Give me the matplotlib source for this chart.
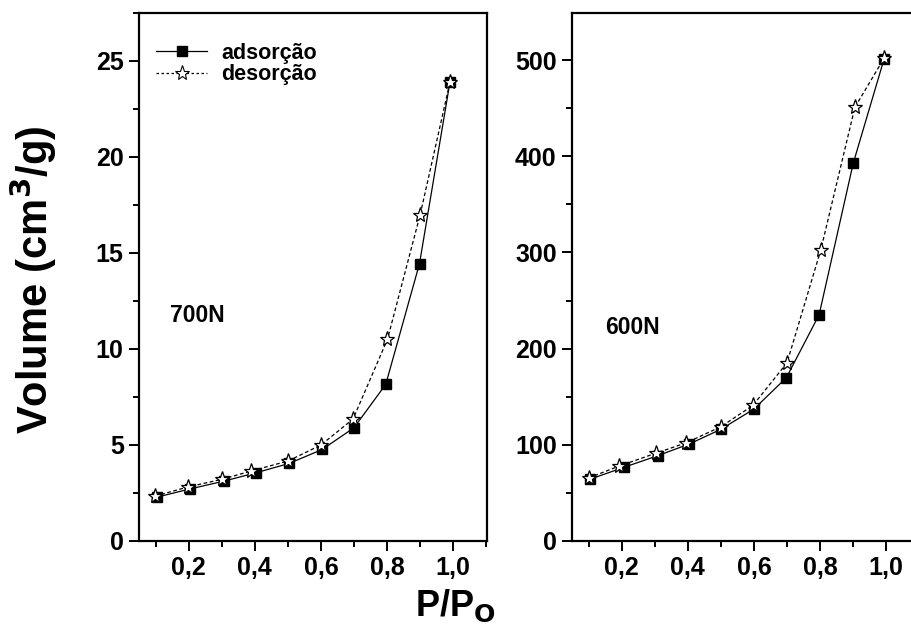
import matplotlib
matplotlib.use("Agg")
import matplotlib.pyplot as plt
from matplotlib.ticker import FuncFormatter, MultipleLocator
from matplotlib.lines import Line2D

plt.rcParams['font.family'] = ['Liberation Sans', 'DejaVu Sans']
plt.rcParams['font.weight'] = 'bold'

# 700N sample
x_ads_700 = [0.103, 0.204, 0.307, 0.405, 0.504, 0.604, 0.700, 0.796, 0.898, 0.99]
v_ads_700 = [2.28, 2.71, 3.12, 3.56, 4.04, 4.77, 5.90, 8.16, 14.45, 23.9]
x_des_700 = [0.099, 0.197, 0.300, 0.390, 0.501, 0.600, 0.697, 0.801, 0.900, 0.99]
v_des_700 = [2.34, 2.81, 3.21, 3.65, 4.17, 5.00, 6.35, 10.50, 17.0, 23.9]

# 600N sample
x_ads_600 = [0.103, 0.207, 0.309, 0.404, 0.500, 0.600, 0.698, 0.797, 0.900, 0.993]
v_ads_600 = [64.1, 76.6, 88.7, 100.8, 116.1, 137.2, 169.8, 235.2, 392.6, 500.7]
x_des_600 = [0.100, 0.193, 0.303, 0.396, 0.500, 0.597, 0.700, 0.802, 0.905, 0.993]
v_des_600 = [65.5, 78.0, 91.2, 102.2, 118.8, 141.0, 185.3, 302.5, 450.8, 501.8]

legend_labels = ['adsorção', 'desorção']
panel_labels = ['700N', '600N']

W, H = 912, 634
fig = plt.figure(figsize=(W / 100, H / 100), dpi=100)

ax_w = (487 - 139) / W
ax_h = (541 - 13) / H
ax1 = fig.add_axes([139 / W, (H - 541) / H, ax_w, ax_h])
ax2 = fig.add_axes([572 / W, (H - 541) / H, ax_w, ax_h])

comma_fmt = FuncFormatter(lambda v, p: f"{v:.1f}".replace('.', ','))


def style(ax, ymax, ymajor):
    ax.set_xlim(0.05, 1.102)
    ax.set_ylim(0, ymax)
    ax.xaxis.set_major_locator(MultipleLocator(0.2))
    ax.xaxis.set_minor_locator(MultipleLocator(0.1))
    ax.xaxis.set_major_formatter(comma_fmt)
    ax.yaxis.set_major_locator(MultipleLocator(ymajor))
    ax.yaxis.set_minor_locator(MultipleLocator(ymajor / 2))
    ax.set_xticks([0.2, 0.4, 0.6, 0.8, 1.0])
    for s in ax.spines.values():
        s.set_linewidth(1.6)
    ax.tick_params(which='major', direction='out', length=7, width=1.4,
                   labelsize=18, pad=4)
    ax.tick_params(which='minor', direction='out', length=4.5, width=1.4)
    for lbl in ax.get_xticklabels() + ax.get_yticklabels():
        lbl.set_fontweight('bold')


def draw(ax, xa, va, xd, vd):
    ax.plot(xa, va, '-', color='black', lw=0.9, marker='s', ms=7.5,
            mfc='black', mec='black', zorder=3)
    ax.plot(xd, vd, '--', color='black', lw=0.9, dashes=(3, 2), marker='*',
            ms=11, mfc='white', mec='black', mew=0.9, zorder=4)


draw(ax1, x_ads_700, v_ads_700, x_des_700, v_des_700)
draw(ax2, x_ads_600, v_ads_600, x_des_600, v_des_600)
style(ax1, 27.5, 5)
style(ax2, 549, 100)

ax1.text(0.144, 11.4, panel_labels[0], fontsize=16.5, fontweight='bold')
ax2.text(0.15, 215, panel_labels[1], fontsize=16.5, fontweight='bold')

handles = [
    Line2D([], [], ls='-', color='black', lw=0.9, marker='s', ms=7.5,
           mfc='black', mec='black'),
    Line2D([], [], ls='--', dashes=(2, 2), color='black', lw=0.9, marker='*',
           ms=11, mfc='white', mec='black', mew=0.8),
]
ax1.legend(handles, legend_labels, loc='upper left', frameon=False,
           bbox_to_anchor=(0.005, 0.972), prop={'size': 15.5, 'weight': 'bold'},
           handlelength=2.4, handletextpad=0.65, labelspacing=0.02,
           borderaxespad=0.3)

fig.text(0.036, 0.558, 'Volume (cm$^{\\mathbf{3}}$/g)', rotation=90,
         ha='center', va='center', fontsize=30, fontweight='bold')
fig.text(0.499, 0.045, 'P/P$_{\\mathbf{O}}$', ha='center', va='center',
         fontsize=26, fontweight='bold')

fig.savefig('out.png', dpi=100)
